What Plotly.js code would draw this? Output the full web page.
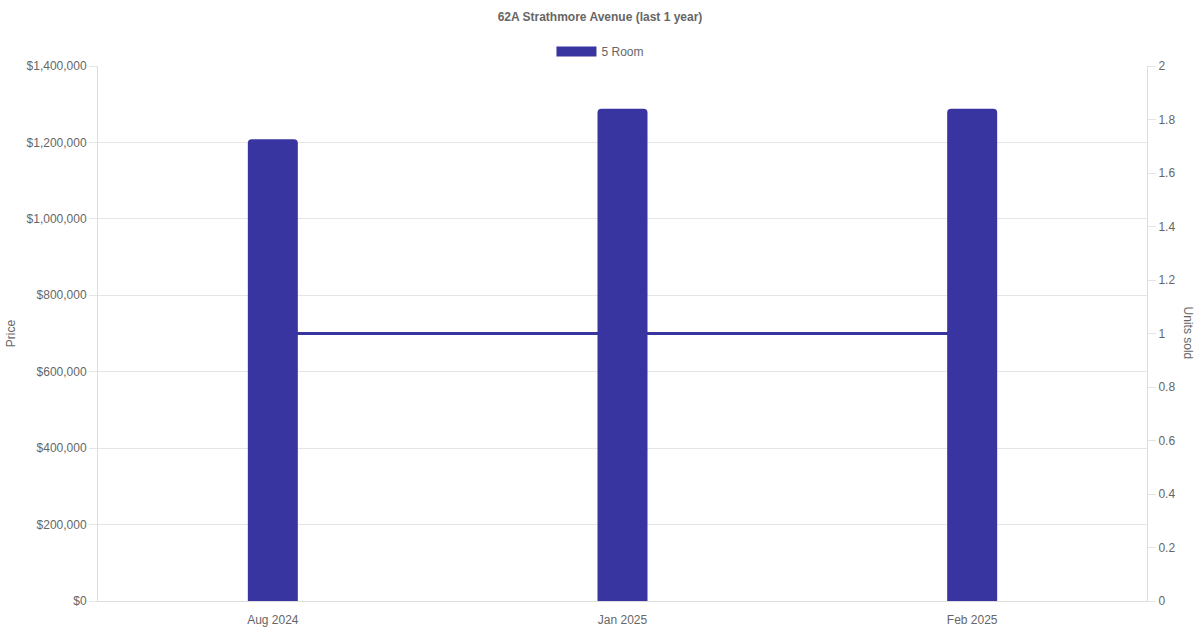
<!DOCTYPE html>
<html>
<head>
<meta charset="utf-8">
<script src="https://cdn.plot.ly/plotly-3.0.1.min.js"></script>
<style>
  html, body { margin: 0; padding: 0; background: #fff; }
  #plot { width: 1200px; height: 630px; }
</style>
</head>
<body>
<div id="plot"></div>
<script>
var months = ["Aug 2024", "Jan 2025", "Feb 2025"];
var prices = [1208000, 1288000, 1288000];
var unitsSold = [1, 1, 1];
var priceTicks = [0, 200000, 400000, 600000, 800000, 1000000, 1200000, 1400000];
var priceTickText = ["$0", "$200,000", "$400,000", "$600,000", "$800,000", "$1,000,000", "$1,200,000", "$1,400,000"];

var barColor = "rgb(56, 52, 160)";
var font = {family: "Liberation Sans, Arial, sans-serif", size: 12, color: "#666"};

var bars = {
    type: "bar",
    x: months,
    y: prices,
    name: "5 Room",
    width: 0.143,
    marker: {color: barColor, cornerradius: 4},
    yaxis: "y",
    showlegend: false,
    hoverinfo: "x+y"
};
var line = {
    type: "scatter",
    mode: "lines",
    x: months,
    y: unitsSold,
    yaxis: "y2",
    showlegend: false,
    line: {color: barColor, width: 3}
};
// legend entry only: wide swatch like the original
var legendKey = {
    type: "scatter",
    mode: "lines",
    x: [null],
    y: [null],
    name: "5 Room",
    line: {color: barColor, width: 12},
    hoverinfo: "skip"
};

var layout = {
    width: 1200,
    height: 630,
    paper_bgcolor: "#fff",
    plot_bgcolor: "#fff",
    font: font,
    margin: {l: 98, r: 53, t: 66, b: 29},
    title: {
        text: "<b>62A Strathmore Avenue (last 1 year)</b>",
        font: {family: font.family, size: 12, color: "#666"},
        x: 0.5,
        y: 0.973,
        yanchor: "middle"
    },
    showlegend: true,
    legend: {
        orientation: "h",
        x: 0.479,
        xanchor: "center",
        y: 1.0,
        yanchor: "bottom",
        font: font,
        itemwidth: 40
    },
    xaxis: {
        showgrid: false,
        showline: true,
        linecolor: "#ddd",
        ticks: "outside",
        ticklen: 8,
        tickcolor: "rgba(0,0,0,0)",
        tickfont: font,
        range: [-0.5, 2.5],
        zeroline: false
    },
    yaxis: {
        range: [0, 1400000],
        tickvals: priceTicks,
        ticktext: priceTickText,
        tickfont: font,
        gridcolor: "#e5e5e5",
        showline: true,
        linecolor: "#ddd",
        ticks: "outside",
        ticklen: 8,
        tickcolor: "#e5e5e5",
        zeroline: false,
        title: {text: "Price", font: font, standoff: 8}
    },
    yaxis2: {
        overlaying: "y",
        side: "right",
        range: [0, 2],
        dtick: 0.2,
        color: "#666",
        tickfont: {family: font.family, size: 12, color: "#666"},
        showgrid: false,
        showline: true,
        linecolor: "#ddd",
        ticks: "outside",
        ticklen: 8,
        tickcolor: "#e5e5e5",
        zeroline: false
    },
    annotations: [{
        text: "Units sold",
        textangle: 90,
        xref: "paper",
        yref: "paper",
        x: 1.040,
        y: 0.5,
        xanchor: "center",
        yanchor: "middle",
        showarrow: false,
        font: font
    }]
};

Plotly.newPlot("plot", [bars, line, legendKey], layout, {displayModeBar: false});
</script>
</body>
</html>
